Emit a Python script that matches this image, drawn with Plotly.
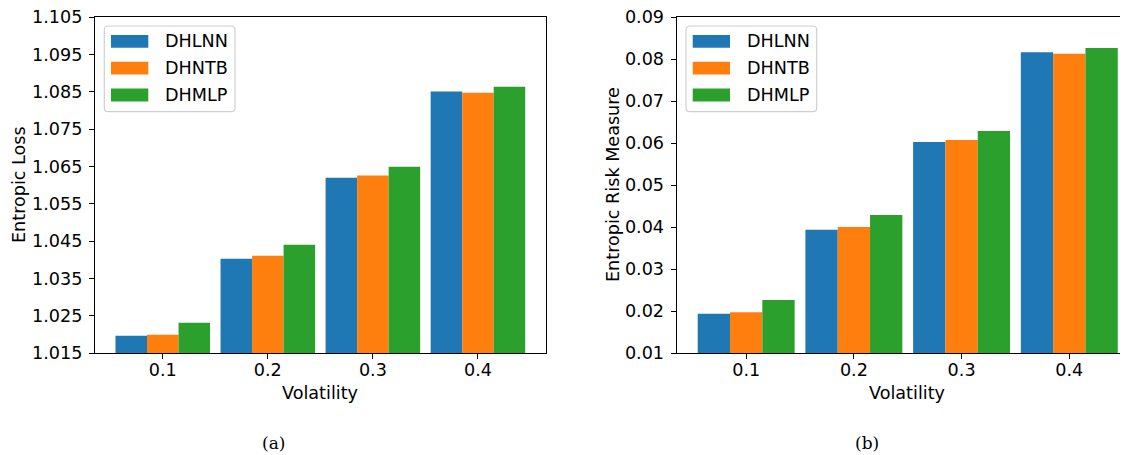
import plotly.graph_objects as go

categories = ["0.1", "0.2", "0.3", "0.4"]
series_names = ["DHLNN", "DHNTB", "DHMLP"]
colors = ["#1f77b4", "#ff7f0e", "#2ca02c"]

loss_dhlnn = [1.0197, 1.0403, 1.0620, 1.0851]
loss_dhntb = [1.0200, 1.0411, 1.0626, 1.0848]
loss_dhmlp = [1.0232, 1.0441, 1.0650, 1.0864]

risk_dhlnn = [0.0194, 0.0394, 0.0603, 0.0817]
risk_dhntb = [0.0198, 0.0401, 0.0608, 0.0813]
risk_dhmlp = [0.0227, 0.0429, 0.0629, 0.0827]

loss_ticks = [1.015, 1.025, 1.035, 1.045, 1.055, 1.065, 1.075, 1.085, 1.095, 1.105]
risk_ticks = [0.01, 0.02, 0.03, 0.04, 0.05, 0.06, 0.07, 0.08, 0.09]

# page body has an 8px margin: figure is 1120x447 placed at (8, 8)
OFF = 8
W, H = 1128 - OFF, 455 - OFF
FONT = "DejaVu Sans"
FS = 17.6


def px_x(x):
    return (x - OFF) / W


def px_y(y):
    return 1 - (y - OFF) / H


fig = go.Figure()
for name, vals, c in zip(series_names, [loss_dhlnn, loss_dhntb, loss_dhmlp], colors):
    fig.add_trace(go.Bar(x=categories, y=vals, name=name, marker=dict(color=c, line=dict(width=0)),
                         xaxis="x", yaxis="y", showlegend=False, offsetgroup=name))
for name, vals, c in zip(series_names, [risk_dhlnn, risk_dhntb, risk_dhmlp], colors):
    fig.add_trace(go.Bar(x=categories, y=vals, name=name, marker=dict(color=c, line=dict(width=0)),
                         xaxis="x2", yaxis="y2", showlegend=False, offsetgroup=name))

y_dom = [px_y(353.3), px_y(17.3)]
ax_common = dict(showline=True, linecolor="black", linewidth=1.2, ticks="outside", ticklen=5,
                 tickcolor="black", tickwidth=1.2, showgrid=False, zeroline=False, automargin=False,
                 ticklabeloverflow="allow",
                 tickfont=dict(family=FONT, size=FS, color="black"))
x_common = dict(ax_common, ticklabelstandoff=-5)
y_common = dict(ax_common, ticklabelstandoff=3)

fig.update_layout(
    width=W, height=H, margin=dict(l=0, r=0, t=0, b=0, pad=0),
    paper_bgcolor="white", plot_bgcolor="white",
    barmode="group", bargap=0.1, bargroupgap=0,
    font=dict(family=FONT, size=FS, color="black"),
    xaxis=dict(domain=[px_x(95), px_x(545.7)], range=[-0.645, 3.645], type="category",
               mirror=True, anchor="y", **x_common),
    yaxis=dict(domain=y_dom, range=[1.015, 1.105], tickvals=loss_ticks, tickformat=".3f",
               mirror=True, anchor="x", **y_common),
    xaxis2=dict(domain=[px_x(676.7), 1.0], range=[-0.645, 3.545], type="category",
                mirror=True, anchor="y2", **x_common),
    yaxis2=dict(domain=y_dom, range=[0.01, 0.09], tickvals=risk_ticks, tickformat=".2f",
                mirror=False, anchor="x2", **y_common),
)

annotations = []
shapes = []


def rounded_rect(x0, y0, x1, y1, r):
    X = px_x
    Y = px_y
    return (f"M {X(x0 + r)} {Y(y0)} L {X(x1 - r)} {Y(y0)} Q {X(x1)} {Y(y0)} {X(x1)} {Y(y0 + r)} "
            f"L {X(x1)} {Y(y1 - r)} Q {X(x1)} {Y(y1)} {X(x1 - r)} {Y(y1)} "
            f"L {X(x0 + r)} {Y(y1)} Q {X(x0)} {Y(y1)} {X(x0)} {Y(y1 - r)} "
            f"L {X(x0)} {Y(y0 + r)} Q {X(x0)} {Y(y0)} {X(x0 + r)} {Y(y0)} Z")


# axis titles
annotations.append(dict(text="Volatility", x=px_x(320), y=px_y(392.5), xref="paper", yref="paper",
                        showarrow=False, font=dict(size=FS), xanchor="center", yanchor="middle"))
annotations.append(dict(text="Volatility", x=px_x(907), y=px_y(392.5), xref="paper", yref="paper",
                        showarrow=False, font=dict(size=FS), xanchor="center", yanchor="middle"))
annotations.append(dict(text="Entropic Loss", x=px_x(19), y=px_y(185), xref="paper", yref="paper",
                        showarrow=False, textangle=-90, font=dict(size=FS), xanchor="center", yanchor="middle"))
annotations.append(dict(text="Entropic Risk Measure", x=px_x(613), y=px_y(185), xref="paper", yref="paper",
                        showarrow=False, textangle=-90, font=dict(size=FS), xanchor="center", yanchor="middle"))
# captions
annotations.append(dict(text="(a)", x=px_x(273), y=px_y(443), xref="paper", yref="paper", showarrow=False,
                        font=dict(family="DejaVu Serif", size=17), xanchor="center", yanchor="middle"))
annotations.append(dict(text="(b)", x=px_x(867), y=px_y(443), xref="paper", yref="paper", showarrow=False,
                        font=dict(family="DejaVu Serif", size=17), xanchor="center", yanchor="middle"))

# legends (drawn manually to match wide patches)
for (bx0, bx1, px0, px1, tx) in [(104.3, 235, 111, 148.3, 163.3), (686, 816.7, 692.7, 730, 745)]:
    shapes.append(dict(type="path", xref="paper", yref="paper", path=rounded_rect(bx0, 26, bx1, 111.7, 4),
                       line=dict(color="#d0d0d0", width=1.2),
                       fillcolor="rgba(255,255,255,0.8)", layer="above"))
    for i, (name, c) in enumerate(zip(series_names, colors)):
        cy = 41.4 + i * 26.8
        shapes.append(dict(type="rect", xref="paper", yref="paper", x0=px_x(px0), x1=px_x(px1),
                           y0=px_y(cy + 6.4), y1=px_y(cy - 6.4), line=dict(width=0),
                           fillcolor=c, layer="above"))
        annotations.append(dict(text=name, x=px_x(tx), y=px_y(cy), xref="paper", yref="paper",
                                showarrow=False, font=dict(size=FS), xanchor="left", yanchor="middle"))

fig.update_layout(annotations=annotations, shapes=shapes)
fig.write_html("out.html")
